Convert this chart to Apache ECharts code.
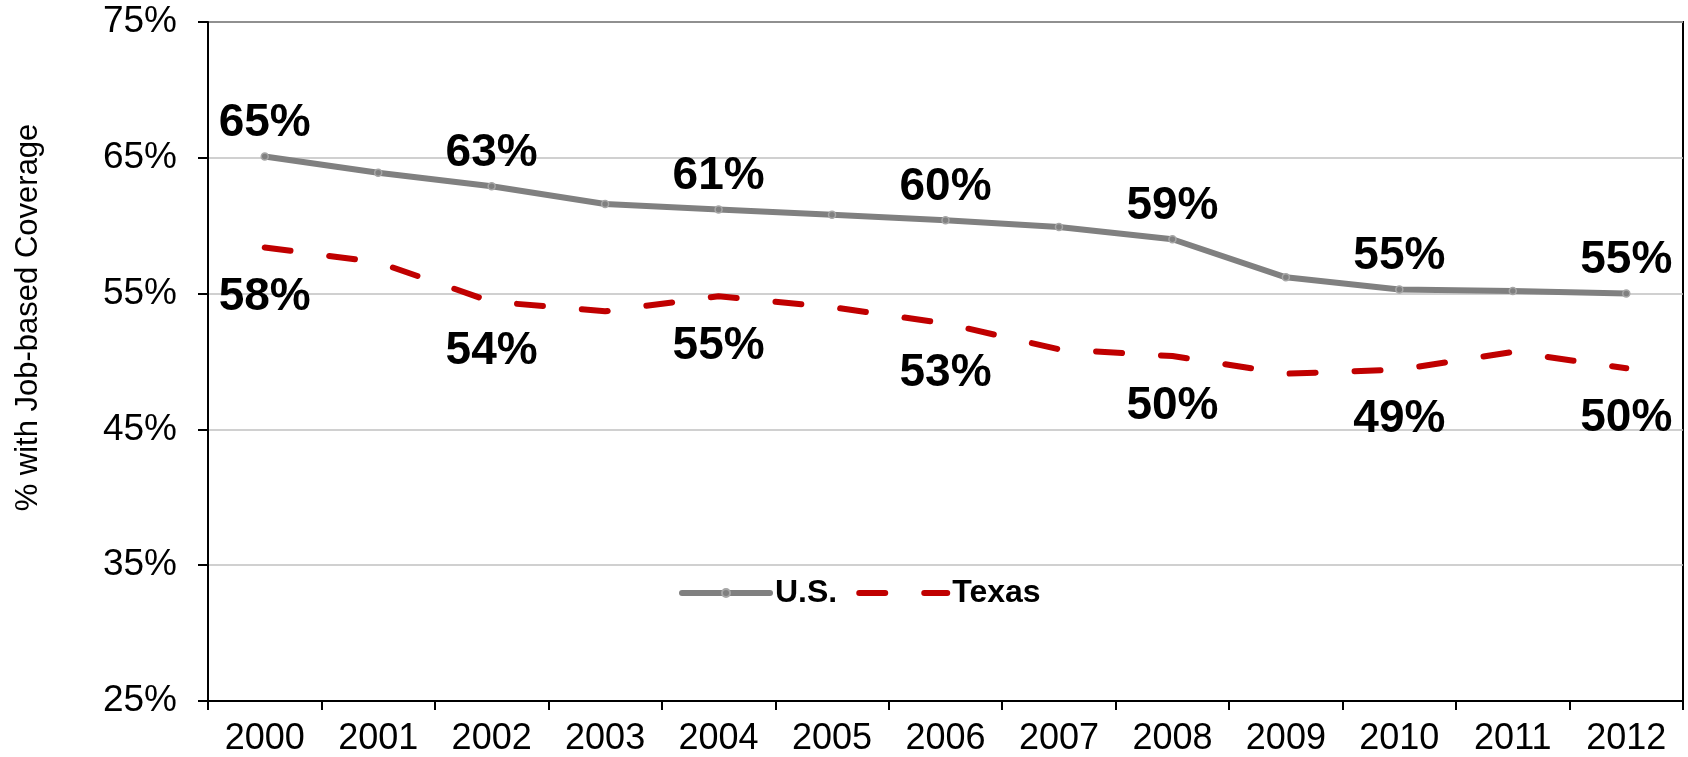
<!DOCTYPE html>
<html lang="en">
<head>
  <meta charset="UTF-8">
  <title>Job-based Coverage</title>
  <style>
    *{
      margin: 0;
      padding: 0;
    }
    body{
      background: #ffffff;
    }
    #chart{
      width: 1688px;
      height: 757px;
    }
  </style>
</head>
<body>
<div id="chart"></div>

<script type="text/javascript" src="https://cdn.jsdelivr.net/npm/echarts@6/dist/echarts.min.js"></script>
<script>
  // 年份
  var years = ['2000', '2001', '2002', '2003', '2004', '2005', '2006', '2007', '2008', '2009', '2010', '2011', '2012'];
  // U.S. 数据 (%)
  var usValues = [65.1, 63.9, 62.9, 61.6, 61.2, 60.8, 60.4, 59.9, 59.0, 56.2, 55.3, 55.2, 55.0];
  // Texas 数据 (%)
  var texasValues = [58.4, 57.3, 54.4, 53.7, 54.8, 54.0, 52.8, 50.9, 50.4, 49.1, 49.4, 50.7, 49.5];

  var fontFamily = "'Liberation Sans', Arial, sans-serif";

  // 只在偶数年份显示标签
  function toData(values) {
    return values.map(function (v, i) {
      return { value: v, label: { show: i % 2 === 0 } };
    });
  }

  function pctLabel(p) {
    return Math.round(p.value) + '%';
  }

  var myChart = echarts.init(document.getElementById('chart'));

  var option = {
    animation: false,
    textStyle: { fontFamily: fontFamily },
    grid: {
      left: 208,
      right: 5,
      top: 22,
      bottom: 50,
      show: true,
      borderColor: '#000000',
      borderWidth: 2
    },
    legend: {
      left: 674,
      top: 572,
      itemWidth: 88,
      itemHeight: 10,
      itemGap: 19,
      lineStyle: { width: 6, cap: 'round' },
      textStyle: {
        fontSize: 32,
        fontWeight: 'bold',
        color: '#000000',
        fontFamily: fontFamily
      },
      data: ['U.S.', { name: 'Texas', itemStyle: { opacity: 0 } }]
    },
    xAxis: {
      type: 'category',
      data: years,
      boundaryGap: true,
      axisLine: { lineStyle: { color: '#000000', width: 2 } },
      axisTick: { show: true, length: 9, lineStyle: { color: '#000000', width: 2 } },
      axisLabel: {
        color: '#000000',
        fontSize: 36,
        margin: 20,
        fontFamily: fontFamily
      },
      splitLine: { show: false }
    },
    yAxis: {
      type: 'value',
      min: 25,
      max: 75,
      interval: 10,
      name: '% with Job-based Coverage',
      nameLocation: 'middle',
      nameGap: 164,
      nameTextStyle: {
        fontSize: 31,
        color: '#000000',
        fontFamily: fontFamily,
        padding: [0, 0, 0, 88]
      },
      axisLine: { show: true, lineStyle: { color: '#000000', width: 2 } },
      axisTick: { show: true, length: 10, lineStyle: { color: '#000000', width: 2 } },
      axisLabel: {
        color: '#000000',
        fontSize: 37,
        margin: 31,
        fontFamily: fontFamily,
        formatter: '{value}%'
      },
      splitLine: { lineStyle: { color: '#c0c0c0', width: 1.5 } }
    },
    series: [
      {
        name: 'U.S.',
        type: 'line',
        data: toData(usValues),
        symbol: 'circle',
        symbolSize: 7,
        itemStyle: { color: '#808080', borderColor: '#a6a6a6', borderWidth: 1.5 },
        lineStyle: { color: '#808080', width: 6 },
        label: {
          position: 'top',
          distance: 6,
          color: '#000000',
          fontSize: 46,
          fontWeight: 'bold',
          fontFamily: fontFamily,
          formatter: pctLabel
        },
        z: 3
      },
      {
        name: 'Texas',
        type: 'line',
        data: toData(texasValues),
        symbol: 'circle',
        symbolSize: 0.1,
        itemStyle: { color: '#c00000', borderWidth: 0 },
        lineStyle: { color: '#c00000', width: 6, type: [26, 39], cap: 'round' },
        label: {
          position: 'bottom',
          distance: 27,
          color: '#000000',
          fontSize: 46,
          fontWeight: 'bold',
          fontFamily: fontFamily,
          formatter: pctLabel
        },
        z: 2
      }
    ]
  };

  myChart.setOption(option);
</script>
</body>
</html>
